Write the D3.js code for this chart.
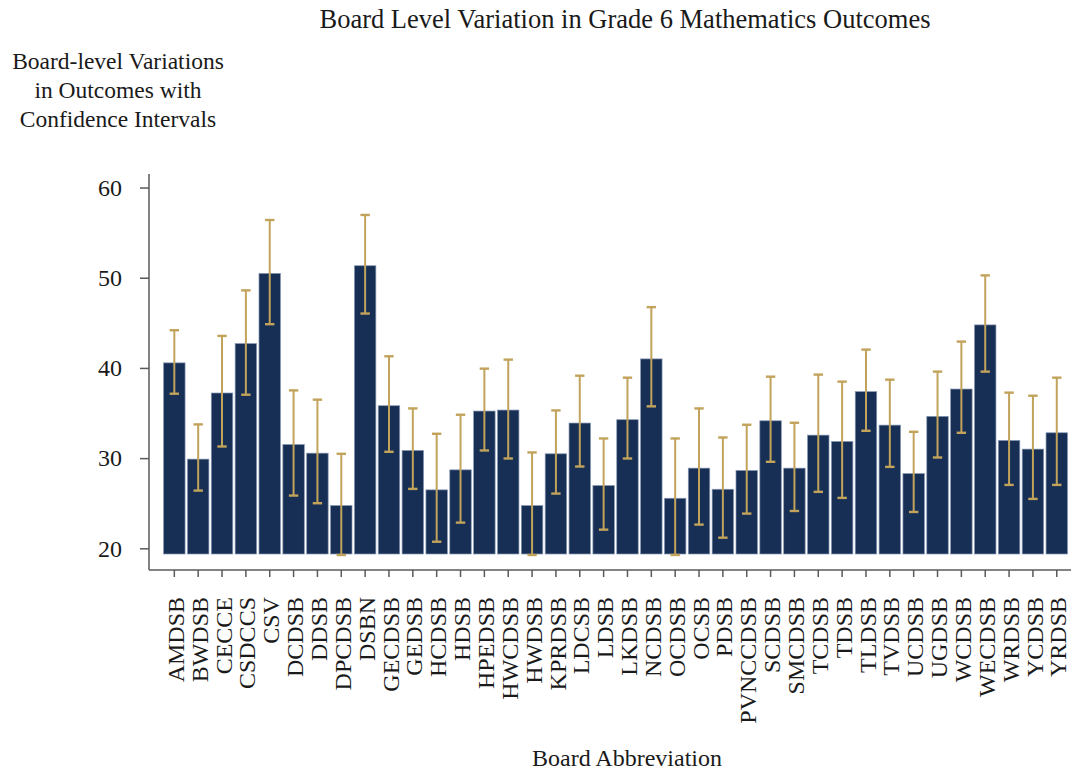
<!DOCTYPE html>
<html>
<head>
<meta charset="utf-8">
<script src="https://cdn.jsdelivr.net/npm/d3@7"></script>
<style>
  body { margin: 0; background: #fff; }
  svg { display: block; }
  text { font-family: "Liberation Serif", "Times New Roman", serif; fill: #1a1a1a; }
</style>
</head>
<body>
<svg id="chart" width="1071" height="771"></svg>
<script>
const boards = ["AMDSB","BWDSB","CECCE","CSDCCS","CSV","DCDSB","DDSB","DPCDSB","DSBN","GECDSB","GEDSB","HCDSB","HDSB","HPEDSB","HWCDSB","HWDSB","KPRDSB","LDCSB","LDSB","LKDSB","NCDSB","OCDSB","OCSB","PDSB","PVNCCDSB","SCDSB","SMCDSB","TCDSB","TDSB","TLDSB","TVDSB","UCDSB","UGDSB","WCDSB","WECDSB","WRDSB","YCDSB","YRDSB"];
const means = [40.56,29.89,37.22,42.70,50.48,31.51,30.55,24.74,51.33,35.81,30.85,26.48,28.70,35.22,35.33,24.74,30.48,33.89,26.96,34.26,41.00,25.55,28.89,26.55,28.63,34.14,28.89,32.55,31.85,37.37,33.66,28.29,34.63,37.66,44.77,31.96,31.00,32.81];
const upper = [44.18,33.74,43.55,48.60,56.40,37.51,36.48,30.48,56.96,41.29,35.51,32.70,34.81,39.92,40.92,30.63,35.29,39.14,32.18,38.92,46.74,32.18,35.51,32.29,33.70,39.03,33.92,39.26,38.48,42.03,38.70,32.92,39.59,42.92,50.26,37.26,36.92,38.92];
const lower = [37.14,26.40,31.29,37.03,44.85,25.85,25.00,19.26,46.03,30.70,26.59,20.73,22.85,30.85,29.96,19.26,26.07,29.07,22.07,29.96,35.74,19.26,22.63,21.18,23.85,29.59,24.14,26.26,25.59,33.03,29.03,24.03,30.07,32.81,39.59,27.03,25.48,27.03];
const yTicks = [20,30,40,50,60];
const title = "Board Level Variation in Grade 6 Mathematics Outcomes";
const yTitle = ["Board-level Variations","in Outcomes with","Confidence Intervals"];
const xTitle = "Board Abbreviation";

const data = boards.map((b,i)=>({board:b, mean:means[i], hi:upper[i], lo:lower[i]}));

const svg = d3.select("#chart");
const axisX0 = 149, axisY0 = 570;
const plotTop = 174, plotBottom = 555;
const barColor = "#172f55", errColor = "#c2a35b", axisColor = "#5a5a5a";

const yMin = d3.min(lower);
const y = d3.scaleLinear().domain([yMin, 61.5]).range([plotBottom, plotTop]);
const x = d3.scaleBand().domain(boards).range([162.4, 1068.7]).paddingInner(0.1).paddingOuter(0.05);

// bars
svg.append("g").selectAll("rect").data(data).join("rect")
  .attr("x", d=>x(d.board))
  .attr("width", x.bandwidth())
  .attr("y", d=>y(d.mean))
  .attr("height", d=>y(yMin) - y(d.mean) - 1)
  .attr("fill", barColor)
  .attr("stroke", "#8797b3")
  .attr("stroke-width", 0.7);

// error bars
const eg = svg.append("g").attr("stroke", errColor);
const cx = d=>x(d.board)+x.bandwidth()/2;
const capW = 4.7;
eg.selectAll("line.v").data(data).join("line").attr("class","v")
  .attr("x1",cx).attr("x2",cx).attr("y1",d=>y(d.hi)).attr("y2",d=>y(d.lo)).attr("stroke-width",2);
eg.selectAll("line.t").data(data).join("line").attr("class","t")
  .attr("x1",d=>cx(d)-capW).attr("x2",d=>cx(d)+capW).attr("y1",d=>y(d.hi)).attr("y2",d=>y(d.hi)).attr("stroke-width",2.4);
eg.selectAll("line.b").data(data).join("line").attr("class","b")
  .attr("x1",d=>cx(d)-capW).attr("x2",d=>cx(d)+capW).attr("y1",d=>y(d.lo)).attr("y2",d=>y(d.lo)).attr("stroke-width",2.4);

// y axis
const yAxis = svg.append("g").attr("transform",`translate(${axisX0},0)`)
  .call(d3.axisLeft(y).tickValues(yTicks).tickSize(9).tickPadding(18).tickFormat(d3.format("d")));
yAxis.select(".domain").remove();
yAxis.selectAll(".tick line").attr("stroke",axisColor).attr("stroke-width",1.5);
yAxis.selectAll(".tick text").attr("font-size",24).attr("fill","#1a1a1a").attr("font-family","Liberation Serif");

// x axis
const xAxis = svg.append("g").attr("transform",`translate(0,${axisY0})`)
  .call(d3.axisBottom(x).tickSize(7));
xAxis.select(".domain").remove();
xAxis.selectAll(".tick line").attr("stroke",axisColor).attr("stroke-width",1.5);
xAxis.selectAll(".tick text")
  .attr("font-size",24).attr("fill","#1a1a1a").attr("font-family","Liberation Serif")
  .attr("transform","rotate(-90)").attr("text-anchor","end")
  .attr("x",-27).attr("y",0).attr("dy","0.4em");

// axis frame
svg.append("line").attr("x1",axisX0).attr("x2",1071).attr("y1",axisY0).attr("y2",axisY0)
  .attr("stroke",axisColor).attr("stroke-width",1.5);
svg.append("line").attr("x1",axisX0).attr("x2",axisX0).attr("y1",plotTop).attr("y2",axisY0)
  .attr("stroke",axisColor).attr("stroke-width",1.5);

// titles
svg.append("text").attr("x",625).attr("y",28).attr("text-anchor","middle").attr("font-size",26.5).text(title);
svg.append("text").attr("x",627).attr("y",766).attr("text-anchor","middle").attr("font-size",24).text(xTitle);
const yt = svg.append("text").attr("text-anchor","middle").attr("font-size",23.5);
yTitle.forEach((t,i)=>yt.append("tspan").attr("x",118).attr("y",69+i*29).text(t));
</script>
</body>
</html>
